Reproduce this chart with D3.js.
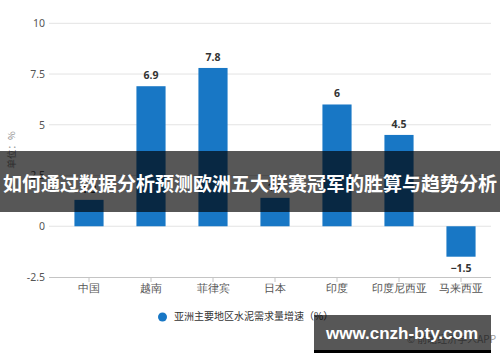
<!DOCTYPE html>
<html>
<head>
<meta charset="utf-8">
<script src="https://cdn.jsdelivr.net/npm/d3@7"></script>
<style>
  body { margin: 0; background: #fff; }
  svg { display: block; font-family: "Noto Sans CJK SC", "Noto Sans", sans-serif; }
</style>
</head>
<body>
<svg id="chart" width="500" height="362"></svg>
<script>
// data
var categories = ["中国", "越南", "菲律宾", "日本", "印度", "印度尼西亚", "马来西亚"];
var growth = [1.3, 6.9, 7.8, 1.4, 6, 4.5, -1.5];
var yTicks = [-2.5, 0, 2.5, 5, 7.5, 10];
var seriesName = "亚洲主要地区水泥需求量增速（%）";
var bannerText = "如何通过数据分析预测欧洲五大联赛冠军的胜算与趋势分析";
var siteText = "www.cnzh-bty.com";

var svg = d3.select("#chart");
var barColor = "#1877c5";

var x = d3.scaleBand()
    .domain(categories)
    .range([58, 492])
    .paddingInner(0.53)
    .paddingOuter(0.265);

var y = d3.scaleLinear()
    .domain([-2.5, 10])
    .range([277, 23.3]);

// gridlines
svg.append("g")
    .selectAll("line")
    .data(yTicks.filter(function (t) { return t > -2.5; }))
    .enter().append("line")
    .attr("x1", 49)
    .attr("x2", 491)
    .attr("y1", function (d) { return y(d); })
    .attr("y2", function (d) { return y(d); })
    .attr("stroke", "#e3e3e3")
    .attr("stroke-width", 1);

// y axis labels
var yAxis = d3.axisLeft(y)
    .tickValues(yTicks)
    .tickSize(0)
    .tickPadding(4)
    .tickFormat(function (d) { return d; });

var gy = svg.append("g")
    .attr("transform", "translate(49,0)")
    .call(yAxis);
gy.select(".domain").remove();
gy.selectAll("text")
    .attr("font-family", "'Noto Sans', sans-serif")
    .attr("font-size", 10.5)
    .attr("fill", "#555");

// y axis title
svg.append("text")
    .attr("transform", "translate(12,150) rotate(-90)")
    .attr("text-anchor", "middle")
    .attr("dominant-baseline", "middle")
    .attr("font-size", 9.5)
    .attr("fill", "#888")
    .text("单位：%");

// x axis at the bottom
var xAxis = d3.axisBottom(x)
    .tickSizeInner(5)
    .tickSizeOuter(0)
    .tickPadding(3);

var gx = svg.append("g")
    .attr("transform", "translate(0," + y(-2.5) + ")")
    .call(xAxis);
gx.select(".domain")
    .attr("d", "M49,0.5H491")
    .attr("stroke", "#c4c4c4");
gx.selectAll(".tick line").attr("stroke", "#c4c4c4");
gx.selectAll("text")
    .attr("font-size", 10.5)
    .attr("fill", "#555");

// bars
svg.append("g")
    .selectAll("rect")
    .data(growth)
    .enter().append("rect")
    .attr("x", function (d, i) { return x(categories[i]); })
    .attr("y", function (d) { return y(Math.max(0, d)); })
    .attr("width", x.bandwidth())
    .attr("height", function (d) { return Math.abs(y(d) - y(0)); })
    .attr("fill", barColor);

// value labels
svg.append("g")
    .selectAll("text")
    .data(growth)
    .enter().append("text")
    .attr("x", function (d, i) { return x(categories[i]) + x.bandwidth() / 2; })
    .attr("y", function (d) { return d >= 0 ? y(d) - 7 : y(d) + 15; })
    .attr("text-anchor", "middle")
    .attr("font-family", "'Noto Sans', sans-serif")
    .attr("font-size", 10.5)
    .attr("font-weight", "bold")
    .attr("fill", "#333")
    .text(function (d) { return d < 0 ? "\u2212" + Math.abs(d) : d; });

// legend
svg.append("circle")
    .attr("cx", 162.5)
    .attr("cy", 317)
    .attr("r", 4.5)
    .attr("fill", barColor);
svg.append("text")
    .attr("x", 174)
    .attr("y", 317)
    .attr("dominant-baseline", "middle")
    .attr("font-size", 10)
    .attr("fill", "#333")
    .text(seriesName);

// faint source line behind the site box
svg.append("text")
    .attr("x", 496)
    .attr("y", 343)
    .attr("text-anchor", "end")
    .attr("font-size", 10)
    .attr("fill", "#999")
    .text("© 前瞻经济学人APP");

// dark title banner over the chart
svg.append("rect")
    .attr("x", 0)
    .attr("y", 151)
    .attr("width", 500)
    .attr("height", 61)
    .attr("fill", "#000")
    .attr("fill-opacity", 0.66);
svg.append("text")
    .attr("x", 250)
    .attr("y", 182)
    .attr("text-anchor", "middle")
    .attr("dominant-baseline", "central")
    .attr("font-size", 19)
    .attr("font-weight", "bold")
    .attr("fill", "#fff")
    .text(bannerText);

// site box bottom right
svg.append("rect")
    .attr("x", 314)
    .attr("y", 315)
    .attr("width", 177)
    .attr("height", 35)
    .attr("fill", "#000")
    .attr("fill-opacity", 0.66);
svg.append("rect")
    .attr("x", 314)
    .attr("y", 350)
    .attr("width", 177)
    .attr("height", 3)
    .attr("fill", "#000");
svg.append("text")
    .attr("x", 402)
    .attr("y", 333)
    .attr("text-anchor", "middle")
    .attr("dominant-baseline", "central")
    .attr("font-family", "'Liberation Sans', Arial, sans-serif")
    .attr("font-size", 17)
    .attr("font-weight", "bold")
    .attr("fill", "#fff")
    .text(siteText);
</script>
</body>
</html>
